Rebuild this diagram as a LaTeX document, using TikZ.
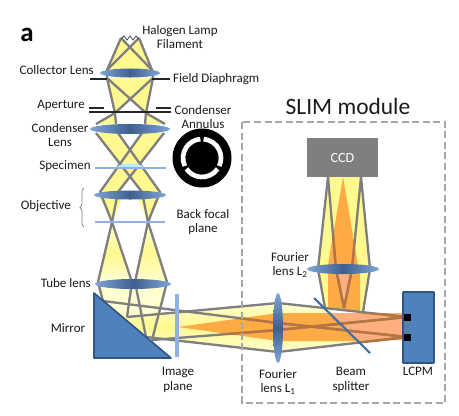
\documentclass[tikz,border=0pt]{standalone}
\usepackage{fontspec}
\setmainfont{Carlito}
\usepackage{xcolor}
\usepackage{tikz}
\usetikzlibrary{calc, decorations.pathreplacing}
\definecolor{beamYellow}{HTML}{FFF98F}
\definecolor{beamPale}{HTML}{FFFFD2}
\definecolor{beamOrange}{HTML}{FFAB45}
\definecolor{beamPeach}{HTML}{FFAE7E}
\definecolor{rayGray}{HTML}{7F7F7F}
\definecolor{rayBrown}{HTML}{B8743F}
\definecolor{lensLight}{HTML}{7FA6D6}
\definecolor{lensDark}{HTML}{3F5F8F}
\definecolor{planeBlue}{HTML}{92B1E3}
\definecolor{partBlue}{HTML}{4F81BD}
\definecolor{partEdge}{HTML}{2F5587}
\definecolor{moduleGray}{HTML}{A6A6A6}
\definecolor{textColor}{HTML}{1A1A1A}
% rays of the horizontal and vertical parts of the SLIM path
\newcommand{\slimRaysH}{
    \draw[rayLine] (103, 301) -- (278, 323) -- (407, 337);
    \draw[rayLine] (127, 317) -- (278, 303) -- (407, 317);
    \draw[rayLine] (152, 340) -- (278, 330) -- (407, 317);
    \draw[rayLine] (146, 337) -- (278, 352) -- (407, 337);
}
\newcommand{\slimRaysV}{
    \draw[rayLine] (328, 177) -- (318, 269) -- (325, 308);
    \draw[rayLine] (361, 177) -- (370, 269) -- (363, 312);
    \draw[rayLine] (328, 177) -- (336, 269) -- (344, 308);
    \draw[rayLine] (361, 177) -- (352, 269) -- (344, 308);
}

\begin{document}
\begin{tikzpicture}[
        x=0.03cm, y=-0.03cm,
        every node/.style={text=textColor, font=\fontsize{11.1}{12.6}\selectfont, inner sep=0pt, align=center},
        beamFill/.style={fill=beamYellow},
        beamFade/.style={top color=beamPale, bottom color=beamPale, middle color=beamYellow},
        rayLine/.style={draw=rayGray, line width=2pt, line join=round},
        lensWide/.style={left color=lensLight, right color=lensLight, middle color=lensDark},
        lensTall/.style={top color=lensLight, bottom color=lensLight, middle color=lensDark},
        stopLine/.style={draw=black!85, line width=1.7pt},
        planeLine/.style={draw=planeBlue, line width=1.9pt},
        spot/.style={fill=black}
    ]
        \useasboundingbox (0, 0) rectangle (459, 415);

        % Yellow beams of the microscope
        \fill[beamFill] (121, 38) -- (130, 48) -- (139, 38) -- (152, 70) -- (107, 70) -- cycle;
        \fill[beamFill] (107, 78) -- (153, 78) -- (146, 113) -- (130, 100) -- (115, 113) -- cycle;
        \fill[beamFill] (115, 113) -- (116, 124) -- (96, 124) -- cycle;
        \fill[beamFill] (146, 113) -- (145, 124) -- (165, 124) -- cycle;
        \fill[beamFill] (96, 133) -- (118, 133) -- (142, 168) -- (121, 168) -- cycle;
        \fill[beamFill] (164, 133) -- (142, 133) -- (118, 168) -- (139, 168) -- cycle;
        \fill[beamFill] (121, 168) -- (142, 192) -- (160, 192) -- (142, 168) -- cycle;
        \fill[beamFill] (139, 168) -- (118, 192) -- (100, 192) -- (118, 168) -- cycle;
        \fill[beamFill] (100, 198) -- (122, 198) -- (112, 222) -- cycle;
        \fill[beamFill] (138, 198) -- (160, 198) -- (148, 222) -- cycle;
        \shade[beamFade] (112, 223) -- (98, 282) -- (132, 282) -- cycle;
        \shade[beamFade] (148, 223) -- (135, 282) -- (167, 282) -- cycle;

        % Beams after the tube lens
        \fill[beamPale] (98, 288) -- (167, 288) -- (152, 340) -- (103, 301) -- cycle;
        \shade[beamFade] (103, 301) -- (127, 317) -- (278, 303) -- (278, 352) -- (146, 337) -- (110, 320) -- cycle;
        \shade[beamFade] (278, 303) -- (328, 309) -- (367, 341) -- (278, 352) -- cycle;

        % Beams into the CCD
        \fill[beamFill] (328, 177) -- (361, 177) -- (370, 269) -- (363, 312) -- (325, 308) -- (318, 269) -- cycle;
        \fill[beamOrange] (343, 177) -- (358, 265) -- (328, 265) -- cycle;
        \fill[beamOrange] (328, 269) -- (360, 269) -- (360, 312) -- (328, 309) -- cycle;
        \fill[beamPeach] (336, 272) -- (352, 272) -- (344, 308) -- cycle;

        % Orange band through the Fourier lens
        \fill[beamOrange] (178, 327) -- (278, 313) -- (278, 341) -- cycle;
        \fill[beamOrange] (278, 313) -- (329, 313) -- (358, 341) -- (278, 341) -- cycle;
        \fill[beamPeach] (329, 313) -- (406, 313) -- (406, 340) -- (358, 341) -- cycle;

        % Rays
        \draw[rayLine] (121, 38) -- (107, 70) -- (107, 78) -- (115, 113) -- (116, 124);
        \draw[rayLine] (139, 38) -- (152, 70) -- (153, 78) -- (146, 113) -- (145, 124);
        \draw[rayLine] (121, 38) -- (152, 70);
        \draw[rayLine] (139, 38) -- (107, 70);
        \draw[rayLine] (107, 78) -- (146, 113);
        \draw[rayLine] (153, 78) -- (115, 113);
        \draw[rayLine] (115, 113) -- (96, 124);
        \draw[rayLine] (146, 113) -- (165, 124);
        \draw[rayLine] (96, 133) -- (142, 192) -- (148, 222) -- (167, 282) -- (152, 340);
        \draw[rayLine] (118, 133) -- (160, 192) -- (148, 222) -- (135, 282) -- (146, 337);
        \draw[rayLine] (164, 133) -- (118, 192) -- (112, 222) -- (132, 282) -- (127, 317);
        \draw[rayLine] (142, 133) -- (100, 192) -- (112, 222) -- (98, 282) -- (103, 301);
        \slimRaysH
        \slimRaysV
        \begin{scope}
            \clip (178, 327) -- (278, 313) -- (406, 313) -- (406, 342) -- (278, 342) -- cycle;
            \tikzset{rayLine/.style={draw=rayBrown, line width=2pt}}
            \slimRaysH
        \end{scope}
        \begin{scope}
            \clip (343, 177) -- (358, 265) -- (360, 312) -- (328, 309) -- (328, 265) -- cycle;
            \tikzset{rayLine/.style={draw=rayBrown, line width=2pt}}
            \slimRaysV
        \end{scope}

        % Filament
        \draw[black!70, line width=0.7pt] (121, 39) -- (124, 36) -- (127, 40) -- (130, 36) -- (133, 40) -- (136, 36) -- (139, 39);

        % Stops and planes
        \draw[stopLine] (90, 79) -- (107, 79);
        \draw[stopLine] (152, 79) -- (170, 79);
        \draw[stopLine] (89, 108) -- (104, 108);
        \draw[stopLine] (156, 108) -- (171, 108);
        \draw[stopLine] (89, 112) -- (171, 112);
        \fill[cyan!25] (117, 167) .. controls (122, 162) and (138, 162) .. (144, 167) -- cycle;
        \draw[planeLine] (95, 168) -- (166, 168);
        \draw[planeLine] (95, 222) -- (165, 222);
        \draw[planeLine, line width=2.6pt] (177, 294) -- (177, 357);

        % Lenses
        \shade[lensWide] (130, 73) ellipse [x radius=30, y radius=4.5];
        \shade[lensWide] (130, 129) ellipse [x radius=40, y radius=5];
        \shade[lensWide] (130, 195) ellipse [x radius=36, y radius=4.5];
        \shade[lensWide] (133, 284) ellipse [x radius=38, y radius=5];
        \shade[lensWide] (343, 269) ellipse [x radius=36, y radius=5];
        \shade[lensTall] (278, 328) ellipse [x radius=5, y radius=35];

        % Mirror and splitter
        \fill[partBlue, draw=partEdge, line width=1.4pt, line join=round] (94, 293) -- (171, 358) -- (94, 358) -- cycle;
        \draw[partBlue!85!black, line width=1.8pt] (314, 298) -- (370, 353);

        % SLIM module parts
        \draw[moduleGray, line width=1.9pt, dash pattern=on 6pt off 3pt] (242, 122) rectangle (445, 403);
        \node[fill=rayGray, minimum width=2.13cm, minimum height=1.17cm, text=white, font=\fontsize{12}{13}\selectfont] (ccd) at (342.5, 157.5) {CCD};
        \fill[partBlue, draw=partEdge, line width=1.4pt, rounded corners=0.5pt] (403, 292) rectangle (434, 363);
        \fill[spot] (403.5, 313.5) rectangle (410.5, 320.5);
        \fill[spot] (403.5, 333.5) rectangle (410.5, 340.5);

        % Condenser annulus
        \fill[black] (202, 158) circle [radius=29.5];
        \foreach \a in {270, 150, 30} {
            \draw[white, line width=4pt] ($(202, 158)+(\a+5:19)$) arc [start angle=\a+5, delta angle=110, radius=19];
        }

        % Labels
        \node[font=\bfseries\fontsize{23}{24}\selectfont, text=black] (panel) at (27, 35) {a};
        \node (halogen) at (180, 37) {Halogen Lamp\\Filament};
        \node[anchor=east] (collector) at (94, 70) {Collector Lens};
        \node[anchor=west] (diaphragm) at (173, 79) {Field Diaphragm};
        \node[anchor=east] (aperture) at (85, 105) {Aperture};
        \node (annulus) at (203, 117) {Condenser\\Annulus};
        \node (condenser) at (60, 135) {Condenser\\Lens};
        \node[anchor=east] (specimen) at (91, 166) {Specimen};
        \node[anchor=east] (objective) at (71, 206) {Objective};
        \node (backfocal) at (203, 222) {Back focal\\plane};
        \node[anchor=east] (tube) at (91, 283) {Tube lens};
        \node (mirror) at (68, 328) {Mirror};
        \node (image) at (178, 380) {Image\\plane};
        \node (fourierone) at (278, 382) {Fourier\\lens L\textsubscript{1}};
        \node (fouriertwo) at (290, 265) {Fourier\\lens L\textsubscript{2}};
        \node (beam) at (351, 380) {Beam\\splitter};
        \node (lcpm) at (418, 371) {LCPM};
        \node[font=\fontsize{20}{22}\selectfont] (slim) at (348, 106) {SLIM module};

        % Brace
        \draw[rayGray, line width=0.6pt, decorate, decoration={brace, amplitude=3.5pt}] (84, 227) -- (84, 188);
\end{tikzpicture}
\end{document}
